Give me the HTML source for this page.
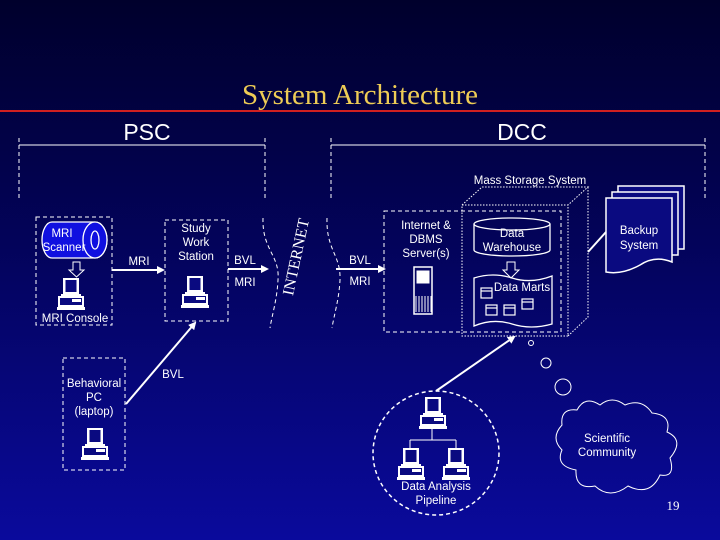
<!DOCTYPE html>
<html><head><meta charset="utf-8"><style>
html,body{margin:0;padding:0;}
body{width:720px;height:540px;overflow:hidden;background:linear-gradient(#00002c 0%,#03035a 45%,#0a0a9c 100%);}
svg{display:block;}
text{font-family:"Liberation Sans",sans-serif;fill:#fff;}
</style></head><body>
<svg width="720" height="540" viewBox="0 0 720 540" xmlns="http://www.w3.org/2000/svg">
<defs>
<g id="pc">
 <rect x="6" y="0" width="16" height="16" fill="#fff"/>
 <rect x="8.5" y="2" width="11" height="12" fill="#0a0a80"/>
 <rect x="4" y="16" width="20" height="2" fill="#fff"/>
 <rect x="1" y="18" width="26" height="11" fill="#fff"/>
 <rect x="3" y="20" width="22" height="7" fill="#0a0a80"/>
 <rect x="15" y="21" width="9" height="3" fill="#fff"/>
 <rect x="0" y="29" width="28" height="3" fill="#fff"/>
</g>
<marker id="ah" markerWidth="8" markerHeight="8" refX="6" refY="4" orient="auto" markerUnits="userSpaceOnUse"><path d="M0,0 L8,4 L0,8 z" fill="#fff"/></marker>
</defs>
<g stroke="#fff" fill="none">
 <line x1="0" y1="111" x2="720" y2="111" stroke="#d02020" stroke-width="2"/>
 <line x1="19" y1="145" x2="265" y2="145" stroke-width="1"/>
 <line x1="331" y1="145" x2="705" y2="145" stroke-width="1"/>
 <g stroke-dasharray="4,3">
 <line x1="19" y1="138" x2="19" y2="198"/>
 <line x1="265" y1="138" x2="265" y2="198"/>
 <line x1="331" y1="138" x2="331" y2="198"/>
 <line x1="705" y1="138" x2="705" y2="198"/>
 <path d="M263,218 C262,250 280,255 278,280 C277,300 272,315 270,328"/>
 <path d="M327,218 C326,250 341,255 340,280 C339,300 334,315 332,328"/>
 <rect x="36" y="217" width="76" height="108"/>
 <rect x="165" y="220" width="63" height="101"/>
 <rect x="63" y="358" width="62" height="112"/>
 <rect x="384" y="211" width="177" height="121"/>
 <ellipse cx="436" cy="453" rx="63" ry="62" stroke-width="1.5"/>
 </g>
 <g stroke-dasharray="1.5,1.5">
 <rect x="462" y="205" width="106" height="131"/>
 <path d="M462,205 L482,187 L588,187 L568,205 M588,187 L588,317 L568,336"/>
 </g>
 <path d="M52,222 L95,222 A12,18 0 0 1 95,258 L52,258 A10,18 0 0 1 52,222 z" fill="#1010e0" stroke-width="1.3"/>
 <ellipse cx="95" cy="240" rx="12" ry="18" fill="#1010e0" stroke-width="1.3"/>
 <ellipse cx="95" cy="240" rx="4" ry="9" stroke-width="1.3"/>
 <path d="M73,262 L80,262 L80,270 L84,270 L76.5,277 L69,270 L73,270 z" stroke-width="1"/>
 <line x1="112" y1="270" x2="163" y2="270" stroke-width="2" marker-end="url(#ah)"/>
 <line x1="228" y1="269" x2="267" y2="269" stroke-width="2" marker-end="url(#ah)"/>
 <line x1="336" y1="269" x2="384" y2="269" stroke-width="2" marker-end="url(#ah)"/>
 <line x1="126" y1="404" x2="195" y2="323" stroke-width="2" marker-end="url(#ah)"/>
 <line x1="436" y1="391" x2="514" y2="337" stroke-width="2" marker-end="url(#ah)"/>
 <line x1="588" y1="252" x2="606" y2="232" stroke-width="2"/>
 <path d="M474,224 L474,250 A38,6 0 0 0 550,250 L550,224" stroke-width="1.3"/>
 <ellipse cx="512" cy="224" rx="38" ry="6" stroke-width="1.3"/>
 <path d="M507,262 L515,262 L515,270 L519,270 L511,278 L503,270 L507,270 z" stroke-width="1"/>
 <path d="M474,278 Q493,272 512,278 Q531,284 552,276 L552,324 Q531,330 512,324 Q493,318 474,326 z" stroke-width="1.3"/>
 <g stroke-width="1.2">
 <rect x="481" y="288" width="11" height="10"/><line x1="481" y1="291" x2="492" y2="291"/>
 <rect x="486" y="305" width="11" height="10"/><line x1="486" y1="308" x2="497" y2="308"/>
 <rect x="504" y="305" width="11" height="10"/><line x1="504" y1="308" x2="515" y2="308"/>
 <rect x="522" y="299" width="11" height="10"/><line x1="522" y1="302" x2="533" y2="302"/>
 </g>
 <rect x="414" y="267" width="18" height="47" stroke-width="1.5"/>
 <rect x="417" y="271" width="12" height="12" fill="#fff"/>
 <path d="M416,296 V312 M419,296 V312 M422,296 V312 M425,296 V312 M428,296 V312 M431,296 V312" stroke-width="1"/>
 <rect x="618" y="186" width="66" height="63" fill="#0a0a80" stroke-width="1.5"/>
 <rect x="612" y="192" width="66" height="63" fill="#0a0a80" stroke-width="1.5"/>
 <path d="M606,198 L672,198 L672,262 Q655,255 640,265 Q622,275 606,272 z" fill="#0a0a80" stroke-width="1.5"/>
 <circle cx="531" cy="343" r="2.5" stroke-width="1"/>
 <circle cx="546" cy="363" r="5" stroke-width="1"/>
 <circle cx="563" cy="387" r="8" stroke-width="1"/>
 <path d="M562,425 Q560,408 577,410 Q585,395 600,405 Q612,395 625,405 Q642,398 652,413 Q672,415 667,432 Q685,440 670,458 Q676,478 660,475 Q650,497 628,486 Q610,500 595,486 Q575,490 576,470 Q555,466 562,450 Q550,438 562,425 z" stroke-width="1"/>
 <path d="M432,428 V440 M410,440 H456 M410,440 V452 M456,440 V452" stroke-width="1"/>
</g>
<use href="#pc" x="57" y="278"/>
<use href="#pc" x="181" y="276"/>
<use href="#pc" x="81" y="428"/>
<use href="#pc" x="419" y="397"/>
<use href="#pc" x="397" y="448"/>
<use href="#pc" x="442" y="448"/>
<text x="360" y="104" text-anchor="middle" style="font-family:'Liberation Serif',serif;font-size:29px;fill:#eecc55">System Architecture</text>
<text x="147" y="140" text-anchor="middle" font-size="23">PSC</text>
<text x="522" y="140" text-anchor="middle" font-size="23">DCC</text>
<g font-size="11.5">
<text x="530" y="184" text-anchor="middle">Mass Storage System</text>
<text x="62" y="237" text-anchor="middle">MRI</text>
<text x="64" y="251" text-anchor="middle">Scanner</text>
<text x="75" y="322" text-anchor="middle">MRI Console</text>
<text x="139" y="265" text-anchor="middle">MRI</text>
<text x="196" y="232" text-anchor="middle">Study</text>
<text x="196" y="246" text-anchor="middle">Work</text>
<text x="196" y="260" text-anchor="middle">Station</text>
<text x="245" y="264" text-anchor="middle">BVL</text>
<text x="245" y="286" text-anchor="middle">MRI</text>
<text x="360" y="264" text-anchor="middle">BVL</text>
<text x="360" y="285" text-anchor="middle">MRI</text>
<text x="426" y="229" text-anchor="middle">Internet &amp;</text>
<text x="426" y="243" text-anchor="middle">DBMS</text>
<text x="426" y="257" text-anchor="middle">Server(s)</text>
<text x="512" y="237" text-anchor="middle">Data</text>
<text x="512" y="251" text-anchor="middle">Warehouse</text>
<text x="522" y="291" text-anchor="middle">Data Marts</text>
<text x="639" y="234" text-anchor="middle">Backup</text>
<text x="639" y="249" text-anchor="middle">System</text>
<text x="94" y="387" text-anchor="middle">Behavioral</text>
<text x="94" y="401" text-anchor="middle">PC</text>
<text x="94" y="415" text-anchor="middle">(laptop)</text>
<text x="173" y="378" text-anchor="middle">BVL</text>
<text x="436" y="490" text-anchor="middle">Data Analysis</text>
<text x="436" y="504" text-anchor="middle">Pipeline</text>
<text x="607" y="442" text-anchor="middle">Scientific</text>
<text x="607" y="456" text-anchor="middle">Community</text>
</g>
<text transform="translate(301,258) rotate(-78)" text-anchor="middle" style="font-family:'Liberation Serif',serif;font-size:16px">INTERNET</text>
<text x="673" y="510" text-anchor="middle" style="font-family:'Liberation Serif',serif;font-size:13px">19</text>
</svg>
</body></html>
